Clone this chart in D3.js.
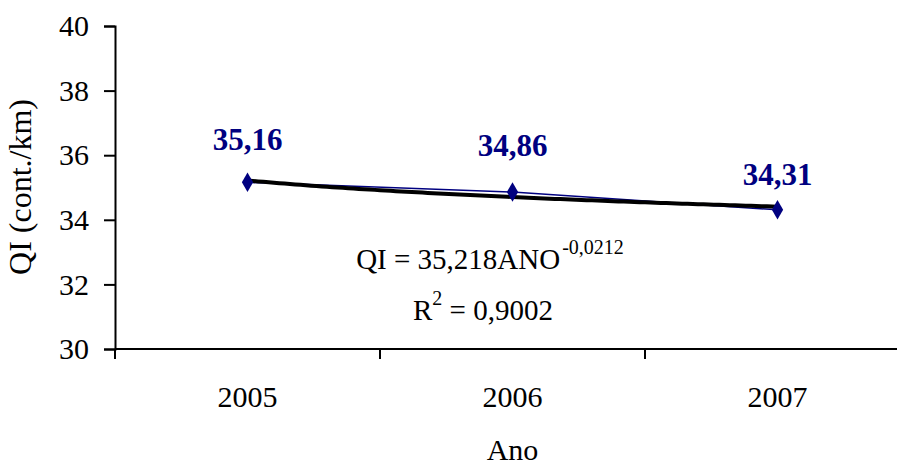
<!DOCTYPE html>
<html>
<head>
<meta charset="utf-8">
<script src="https://cdn.jsdelivr.net/npm/d3@7"></script>
<style>
  body { margin: 0; background: #fff; }
  text { font-family: "Liberation Serif", "Times New Roman", serif; }
</style>
</head>
<body>
<div id="chart"></div>
<script>
// data
var years = ["2005", "2006", "2007"];
var qiValues = [35.16, 34.86, 34.31];
var qiLabels = ["35,16", "34,86", "34,31"];
var yTicks = [30, 32, 34, 36, 38, 40];
// power trendline QI = a * ANO^b (ANO = 1, 2, 3)
var trendA = 35.218, trendB = -0.0212;

var svgWidth = 897, svgHeight = 468;
var margin = {top: 26, right: -13, bottom: 119, left: 115};
var width = svgWidth - margin.left - margin.right,
    height = svgHeight - margin.top - margin.bottom;
var labelGap = [32, 36, 25]; // label distance above each marker, as in the original

var svg = d3.select("#chart").append("svg")
    .attr("width", svgWidth)
    .attr("height", svgHeight);

var g = svg.append("g")
    .attr("transform", "translate(" + margin.left + "," + margin.top + ")");

var x = d3.scaleBand().domain(years).range([0, width]);
var y = d3.scaleLinear().domain([30, 40]).range([height, 0]);

// continuous x for the trendline (ANO index 1..3 -> band centers)
var xi = d3.scaleLinear().domain([1, 3])
    .range([x(years[0]) + x.bandwidth() / 2, x(years[2]) + x.bandwidth() / 2]);

// y axis
var yAxis = g.append("g")
    .call(d3.axisLeft(y).tickValues(yTicks).tickSize(11).tickPadding(15));
yAxis.select(".domain").attr("stroke-width", 2);
yAxis.selectAll(".tick line").attr("stroke-width", 2);
yAxis.selectAll("text")
    .style("font-size", "30px")
    .attr("fill", "#000");

// x axis: ticks at category boundaries
var xAxis = g.append("g")
    .attr("transform", "translate(0," + height + ")");
xAxis.append("line")
    .attr("x1", 0).attr("x2", width)
    .attr("stroke", "#000").attr("stroke-width", 2);
var bounds = years.map(function (d) { return x(d); });
xAxis.selectAll(".btick").data(bounds).enter().append("line")
    .attr("x1", function (d) { return d; })
    .attr("x2", function (d) { return d; })
    .attr("y1", 0).attr("y2", 10)
    .attr("stroke", "#000").attr("stroke-width", 2);
xAxis.selectAll(".xlab").data(years).enter().append("text")
    .attr("x", function (d) { return x(d) + x.bandwidth() / 2; })
    .attr("y", 58)
    .attr("text-anchor", "middle")
    .style("font-size", "30px")
    .text(function (d) { return d; });

// axis titles
svg.append("text")
    .attr("x", margin.left + x("2006") + x.bandwidth() / 2)
    .attr("y", 460)
    .attr("text-anchor", "middle")
    .style("font-size", "30px")
    .text("Ano");

svg.append("text")
    .attr("transform", "translate(31,187) rotate(-90)")
    .attr("text-anchor", "middle")
    .style("font-size", "32px")
    .text("QI (cont./km)");

// series line + diamonds
var line = d3.line()
    .x(function (d, i) { return x(years[i]) + x.bandwidth() / 2; })
    .y(function (d) { return y(d); });

g.append("path")
    .datum(qiValues)
    .attr("d", line)
    .attr("fill", "none")
    .attr("stroke", "#000080")
    .attr("stroke-width", 1.5);

// trendline
var trendPts = d3.range(1, 3.0001, 0.02);
g.append("path")
    .datum(trendPts)
    .attr("d", d3.line()
        .x(function (d) { return xi(d); })
        .y(function (d) { return y(trendA * Math.pow(d, trendB)); }))
    .attr("fill", "none")
    .attr("stroke", "#000")
    .attr("stroke-width", 4);

g.selectAll(".pt").data(qiValues).enter().append("path")
    .attr("d", d3.symbol().type(d3.symbolDiamond).size(110))
    .attr("transform", function (d, i) {
        return "translate(" + (x(years[i]) + x.bandwidth() / 2) + "," + y(d) + ")";
    })
    .attr("fill", "#000080");

g.selectAll(".vlab").data(qiValues).enter().append("text")
    .attr("x", function (d, i) { return x(years[i]) + x.bandwidth() / 2; })
    .attr("y", function (d, i) { return y(d) - labelGap[i]; })
    .attr("text-anchor", "middle")
    .style("font-size", "31px")
    .style("font-weight", "bold")
    .attr("fill", "#000080")
    .text(function (d, i) { return qiLabels[i]; });

// equation
var eq = svg.append("text")
    .attr("x", 490).attr("y", 269)
    .attr("text-anchor", "middle")
    .style("font-size", "29px");
eq.append("tspan").text("QI = 35,218ANO");
eq.append("tspan").attr("dy", -15).attr("dx", 2).style("font-size", "20px").text("-0,0212");

var r2 = svg.append("text")
    .attr("x", 483).attr("y", 320)
    .attr("text-anchor", "middle")
    .style("font-size", "29px");
r2.append("tspan").text("R");
r2.append("tspan").attr("dy", -15).style("font-size", "20px").text("2");
r2.append("tspan").attr("dy", 15).text(" = 0,9002");
</script>
</body>
</html>
